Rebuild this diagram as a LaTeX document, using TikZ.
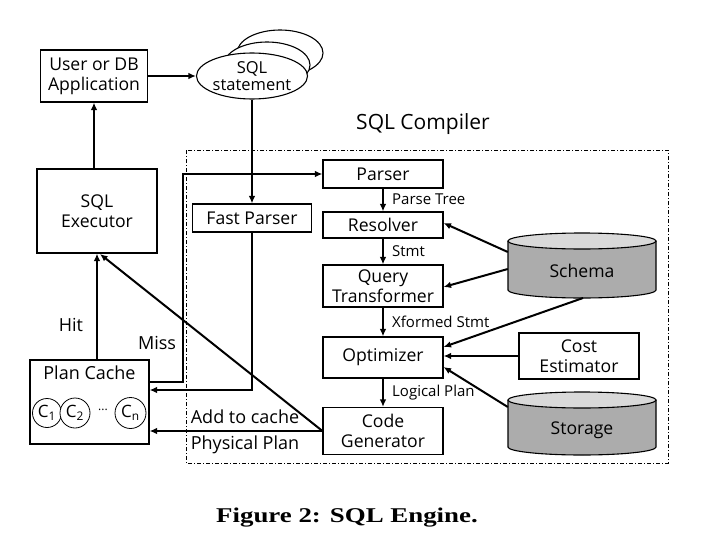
\documentclass[tikz,border=0pt]{standalone}
\usepackage{fontspec}
\setmainfont{Open Sans}
\newfontfamily\capfont[FakeStretch=1.28]{Liberation Serif}
\usetikzlibrary{arrows.meta,shapes.geometric}
\begin{document}
\begin{tikzpicture}[x=1pt,y=-1pt,
  box/.style={draw,line width=1.1pt,align=center,inner sep=0pt,font=\fontsize{17.6}{20}\selectfont},
  lbl/.style={font=\fontsize{15}{16}\selectfont,inner sep=0pt},
  txt/.style={font=\fontsize{18}{20}\selectfont,inner sep=0pt},
  arr/.style={line width=2pt,-{Latex[length=7.5pt,width=6.5pt]}},
  cyl/.style={draw,line width=1.1pt},
]
\useasboundingbox (0,0) rectangle (707,541);
% dashed compiler region
\draw[line width=0.7pt,dash pattern=on 4pt off 2pt on 1pt off 2pt] (186,150) rectangle (668,463);
\node[font=\fontsize{21}{23}\selectfont,inner sep=0pt] (comp) at (423,124) {SQL Compiler};

% boxes
\node[box,minimum width=107,minimum height=52] (user) at (94,76) {User or DB\\Application};
\node[box,minimum width=120,minimum height=84] (exec) at (97,211) {SQL\\Executor};
\node[box,minimum width=119,minimum height=84] (pc) at (89.5,402) {};
\node[txt] (pct) at (89.5,373) {Plan Cache};
\node[draw,circle,line width=0.8pt,minimum size=29,inner sep=0pt,font=\fontsize{17}{19}\selectfont] (c1) at (47,413) {C\textsubscript{1}};
\node[draw,circle,fill=white,line width=0.8pt,minimum size=30,inner sep=0pt,font=\fontsize{17}{19}\selectfont] (c2) at (75,413) {C\textsubscript{2}};
\node[font=\fontsize{12}{14}\selectfont,inner sep=0pt] (dots) at (103,410) {...};
\node[draw,circle,line width=0.8pt,minimum size=31,inner sep=0pt,font=\fontsize{17}{19}\selectfont] (cn) at (130.5,413) {C\textsubscript{n}};

\node[box,minimum width=120,minimum height=28] (parser) at (383,174) {Parser};
\node[box,minimum width=119,minimum height=28] (fp) at (252,218) {Fast Parser};
\node[box,minimum width=120,minimum height=26] (res) at (383,225) {Resolver};
\node[box,minimum width=120,minimum height=42] (qt) at (383,286) {Query\\Transformer};
\node[box,minimum width=120,minimum height=41] (opt) at (383,357.5) {Optimizer};
\node[box,minimum width=120,minimum height=47] (cg) at (383,431) {Code\\Generator};
\node[box,minimum width=120,minimum height=46] (cost) at (579,356) {Cost\\Estimator};

% SQL statement stack
\node[draw,ellipse,line width=1.1pt,fill=white,minimum width=86,minimum height=46] (s3) at (280,53) {};
\node[draw,ellipse,line width=1.1pt,fill=white,minimum width=86,minimum height=46] (s2) at (267,65) {};
\node[draw,ellipse,line width=1.1pt,fill=white,minimum width=86,minimum height=46,align=center,inner sep=0pt,font=\fontsize{16.5}{17}\selectfont] (sql) at (252,76) {SQL\\statement};

% cylinders
\fill[gray!65] (508,241) -- (508,290) arc[start angle=180,end angle=0,x radius=74,y radius=8] -- (656,241) -- cycle;
\draw[cyl] (508,241) -- (508,290) arc[start angle=180,end angle=0,x radius=74,y radius=8] -- (656,241);
\draw[cyl,fill=gray!30] (582,241) ellipse[x radius=74,y radius=8];
\node[minimum width=148,minimum height=65,inner sep=0pt,font=\fontsize{17.6}{19}\selectfont] (schema) at (582,271) {Schema};

\fill[gray!65] (508,400) -- (508,447) arc[start angle=180,end angle=0,x radius=74,y radius=8] -- (656,400) -- cycle;
\draw[cyl] (508,400) -- (508,447) arc[start angle=180,end angle=0,x radius=74,y radius=8] -- (656,400);
\draw[cyl,fill=gray!30] (582,400) ellipse[x radius=74,y radius=8];
\node[minimum width=148,minimum height=63,inner sep=0pt,font=\fontsize{17.6}{19}\selectfont] (storage) at (582,430) {Storage};

% connectors
\draw[arr] (user.east) -- (sql.west);
\draw[arr] (exec.north -| user.south) -- (user.south);
\draw[arr] (sql.south) -- (fp.north);
\draw[arr] (parser.south) -- (res.north);
\draw[arr] (res.south) -- (qt.north);
\draw[arr] (qt.south) -- (opt.north);
\draw[arr] (opt.south) -- (cg.north);
\node[lbl,anchor=west] (l1) at (392,199) {Parse Tree};
\node[lbl,anchor=west] (l2) at (392,251) {Stmt};
\node[lbl,anchor=west] (l3) at (392,322) {Xformed Stmt};
\node[lbl,anchor=west] (l4) at (392,393) {Logical Plan};

\draw[arr] (schema.west |- 0,252) -- (res.east |- 0,223);
\draw[arr] (schema.west |- 0,269) -- (qt.east |- 0,287);
\draw[arr] (583,298) -- (opt.east |- 0,347);
\draw[arr] (cost.west) -- (opt.east |- cost.west);
\draw[arr] (storage.west |- 0,407) -- (opt.east |- 0,367);

% cache paths
\draw[arr] (pc.north -| exec.south) -- (exec.south);
\node[txt] (hit) at (71,325) {Hit};
\draw[arr] (pc.east |- 0,382) -- (183,382) |- (parser.west);
\node[txt] (miss) at (157,343) {Miss};
\draw[arr] (fp.south) |- (pc.east |- 0,390);
\draw[arr] (cg.west |- 0,431) -- (pc.east |- 0,431);
\draw[arr] (cg.west |- 0,431) -- (100,254);
\node[txt] (add) at (245,417) {Add to cache};
\node[txt] (phys) at (245,445) {Physical Plan};

% caption
\node[font=\capfont\bfseries\fontsize{21}{23}\selectfont,inner sep=0pt] (cap) at (347,518) {Figure 2: SQL Engine.};
\end{tikzpicture}
\end{document}
